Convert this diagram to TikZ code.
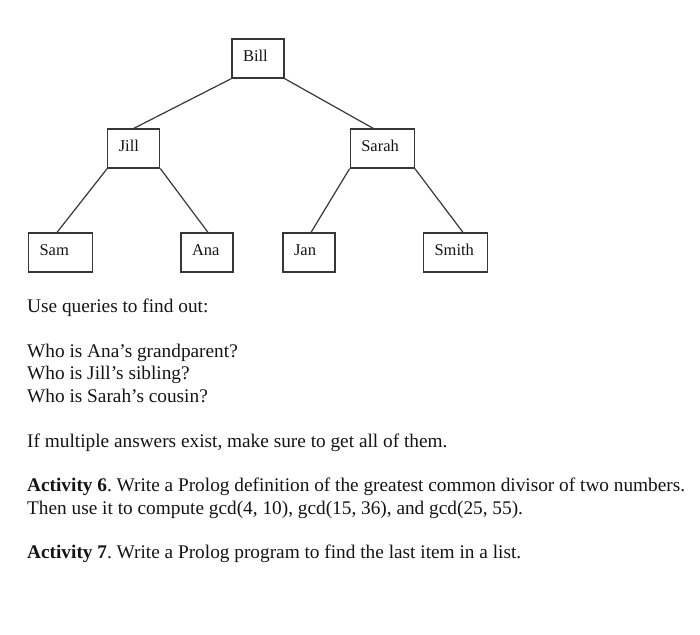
\documentclass[tikz,border=0pt]{standalone}
\usepackage{fontspec}
\setmainfont{Liberation Serif}
\usetikzlibrary{positioning}
\definecolor{linegray}{RGB}{55, 55, 55}
\definecolor{ink}{RGB}{20, 20, 20}

\begin{document}
\frenchspacing
\begin{tikzpicture}[
    x=1pt, y=-1pt,
    person/.style={draw=linegray, line width=1.2pt, rectangle, inner xsep=11pt, inner ysep=0pt,
      text height=22pt, text depth=17pt, text width=30pt, align=left, text=ink,
      font=\fontsize{16.5}{19}\selectfont},
    wide/.style={text width=42pt},
    every child node/.style={person},
    para/.style={anchor=base west, inner sep=0pt, text=ink, font=\fontsize{19.3}{22.5}\selectfont},
    edge from parent/.style={draw=linegray, line width=1.2pt},
    fromleft/.style={edge from parent path={(\tikzparentnode.south west) -- ([xshift=#1]\tikzchildnode.north)}},
    fromleft/.default=0pt,
    fromright/.style={edge from parent path={(\tikzparentnode.south east) -- ([xshift=#1]\tikzchildnode.north)}},
    fromright/.default=0pt,
    level 1/.style={level distance=90pt, sibling distance=248.5pt},
    level 2/.style={level distance=104pt, sibling distance=146.5pt},
  ]
  \useasboundingbox (0,0) rectangle (700,634);
  \node[person] (bill) at (258,58.5) {Bill}
    child[fromleft] { node (jill) {Jill}
      child[fromleft=-3.5pt] { node[wide] (sam) {Sam} }
      child[fromright=1pt] { node (ana) {Ana} }
    }
    child[fromright=-9pt] { node[wide] (sarah) {Sarah}
      child[fromleft=2pt] { node (jan) {Jan} }
      child[fromright=7.5pt] { node[wide] (smith) {Smith} }
    };

  % questions below the tree
  \node[para] (q0) at (27,312) {Use queries to find out:};
  \node[para] (q1) at (27,357) {Who is Ana’s grandparent?};
  \node[para] (q2) at (27,379.5) {Who is Jill’s sibling?};
  \node[para] (q3) at (27,402) {Who is Sarah’s cousin?};
  \node[para] (q4) at (27,447) {If multiple answers exist, make sure to get all of them.};
  \node[para] (q5) at (27,491.5) {\textbf{Activity 6}. Write a Prolog definition of the greatest common divisor of two numbers.};
  \node[para] (q6) at (27,514) {Then use it to compute gcd(4, 10), gcd(15, 36), and gcd(25, 55).};
  \node[para] (q7) at (27,558.5) {\textbf{Activity 7}. Write a Prolog program to find the last item in a list.};
\end{tikzpicture}
\end{document}
